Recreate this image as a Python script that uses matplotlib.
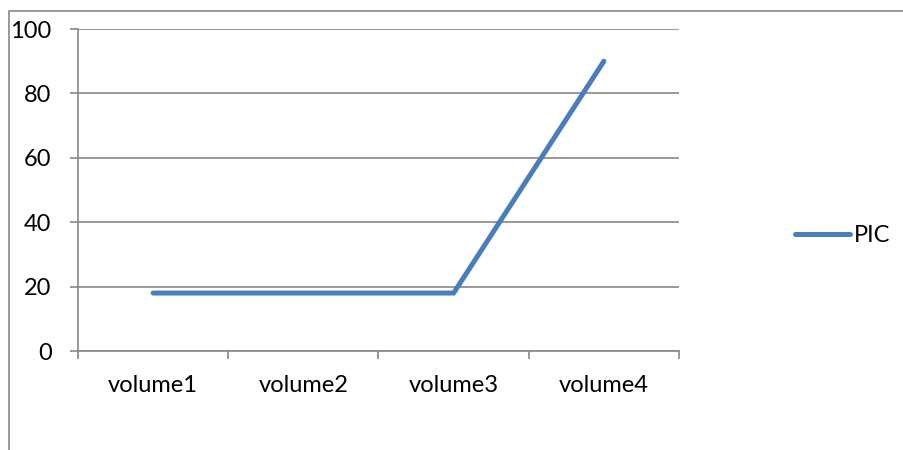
import matplotlib
matplotlib.use("Agg")
import matplotlib.pyplot as plt
from matplotlib.patches import Rectangle
from matplotlib.lines import Line2D

categories = ["volume1", "volume2", "volume3", "volume4"]
pic_values = [18, 18, 18, 90]
y_ticks = [0, 20, 40, 60, 80, 100]
series_name = "PIC"

W, H = 904, 450
GRAY = "#878787"
BLUE = "#4a7ebb"
FS = 17

plt.rcParams["font.family"] = ["Lato", "DejaVu Sans"]

fig = plt.figure(figsize=(W / 100, H / 100), dpi=100)

# outer chart-area frame (extends past the right and bottom edges)
fig.add_artist(Rectangle((8.5 / W, -0.1), 1.2, 1 - 10.5 / H + 0.1,
                         transform=fig.transFigure, fill=False,
                         edgecolor=GRAY, linewidth=1.2))

left, right, top, bottom = 78, 679, 29, 351
ax = fig.add_axes([left / W, 1 - bottom / H, (right - left) / W, (bottom - top) / H])

x = list(range(len(categories)))
ax.plot(x, pic_values, color=BLUE, linewidth=3.6, solid_capstyle="round",
        solid_joinstyle="miter", zorder=3, clip_on=False)

ax.set_xlim(-0.5, len(categories) - 0.5)
ax.set_ylim(0, 100)
ax.set_yticks(y_ticks)
ax.set_yticklabels([str(v) for v in y_ticks], fontsize=FS)
ax.yaxis.grid(True, color=GRAY, linewidth=1.2)
ax.set_axisbelow(True)

ax.set_xticks([i - 0.5 for i in range(len(categories) + 1)])
ax.set_xticklabels([])
ax.set_xticks(x, minor=True)
ax.set_xticklabels(categories, minor=True, fontsize=FS)
ax.tick_params(axis="x", which="major", length=6, width=1.2, color=GRAY, direction="out")
ax.tick_params(axis="x", which="minor", length=0, pad=17)
ax.tick_params(axis="y", length=6, width=1.2, color=GRAY, direction="out", pad=13)

for side in ["top", "right"]:
    ax.spines[side].set_visible(False)
for side in ["left", "bottom"]:
    ax.spines[side].set_color(GRAY)
    ax.spines[side].set_linewidth(1.2)

fig.add_artist(Line2D([795 / W, 850 / W], [1 - 234 / H, 1 - 234 / H],
                      transform=fig.transFigure, color=BLUE, linewidth=3.6,
                      solid_capstyle="round"))
fig.text(854 / W, 1 - 235 / H, series_name, fontsize=FS, va="center", ha="left")

fig.savefig("out.png", dpi=100)
